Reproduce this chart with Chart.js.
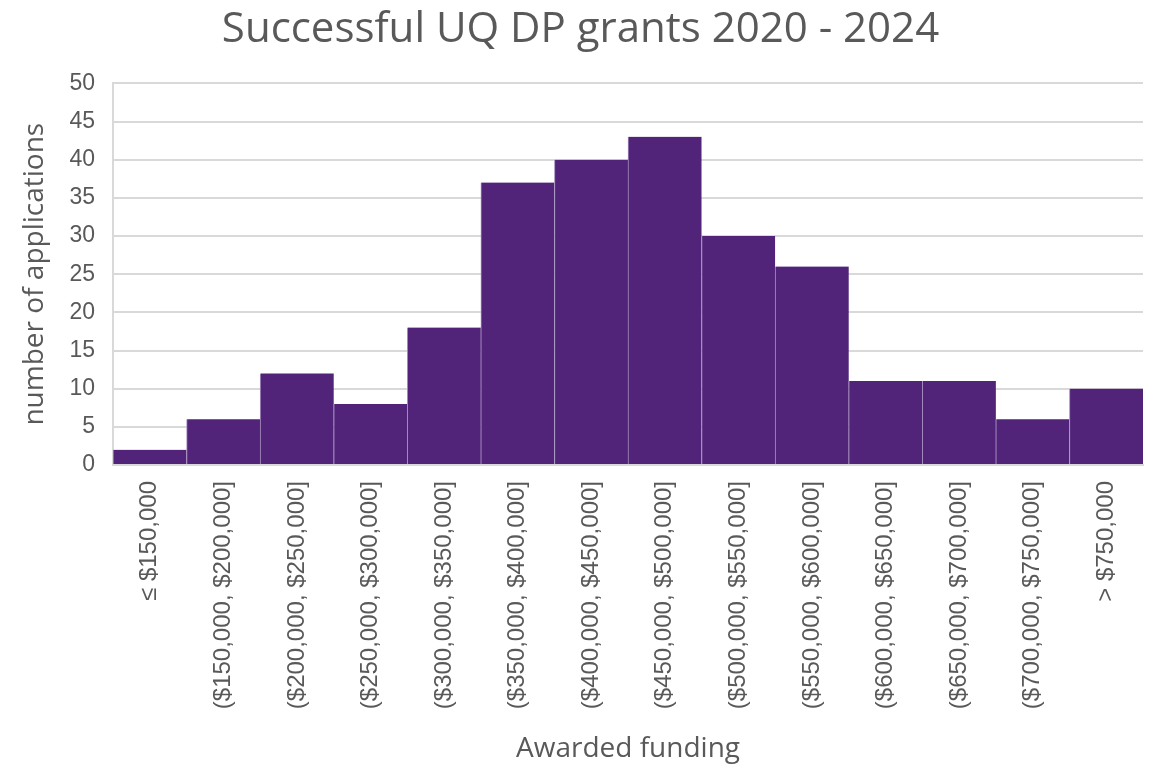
<!DOCTYPE html>
<html>
<head>
<meta charset="utf-8">
<script src="https://cdn.jsdelivr.net/npm/chart.js@4"></script>
<style>
html,body{margin:0;padding:0;background:#fff;}
#wrap{width:1155px;height:766px;position:relative;}
</style>
</head>
<body>
<div id="wrap"><canvas id="c" width="1155" height="766"></canvas></div>
<script>
const categories = ["≤ $150,000","($150,000, $200,000]","($200,000, $250,000]","($250,000, $300,000]","($300,000, $350,000]","($350,000, $400,000]","($400,000, $450,000]","($450,000, $500,000]","($500,000, $550,000]","($550,000, $600,000]","($600,000, $650,000]","($650,000, $700,000]","($700,000, $750,000]","> $750,000"];
const counts = [2,6,12,8,18,37,40,43,30,26,11,11,6,10];
const yTicks = [0,5,10,15,20,25,30,35,40,45,50];

new Chart(document.getElementById('c'), {
  type: 'bar',
  data: {
    labels: categories,
    datasets: [{
      data: counts,
      backgroundColor: '#51247A',
      borderColor: '#a58fbf',
      borderWidth: {left:1,right:0,top:0,bottom:0},
      borderSkipped: false,
      categoryPercentage: 1.0,
      barPercentage: 1.0
    }]
  },
  options: {
    responsive: false,
    animation: false,
    layout: {padding: {left: 18, right: 12, top: 0, bottom: 0}},
    plugins: {
      legend: {display: false},
      tooltip: {enabled: false},
      title: {
        display: true,
        text: 'Successful UQ DP grants 2020 - 2024',
        color: '#595959',
        font: {family: 'Open Sans', size: 42, weight: 'normal'},
        padding: {top: 5, bottom: 28}
      }
    },
    scales: {
      x: {
        afterFit: (s) => { s.height = 301; },
        grid: {display: false, drawTicks: false},
        border: {display: true, color: '#d9d9d9', width: 2},
        ticks: {
          color: '#595959',
          font: {family: 'Liberation Sans', size: 24},
          maxRotation: 90, minRotation: 90,
          padding: 16,
          autoSkip: false
        },
        title: {
          display: true,
          text: 'Awarded funding',
          color: '#595959',
          font: {family: 'Open Sans', size: 28},
          padding: {top: 10, bottom: 0}
        }
      },
      y: {
        min: 0, max: 50,
        afterFit: (s) => { s.width = 95; },
        afterBuildTicks: (s) => { s.ticks = yTicks.map(v => ({value: v})); },
        grid: {color: '#d9d9d9', lineWidth: 2, drawTicks: false},
        border: {display: true, color: '#d9d9d9', width: 2},
        ticks: {
          color: '#595959',
          font: {family: 'Liberation Sans', size: 23},
          padding: 18
        },
        title: {
          display: true,
          text: 'number of applications',
          color: '#595959',
          font: {family: 'Open Sans', size: 28},
          padding: {top: 0, bottom: 14}
        }
      }
    }
  }
});
</script>
</body>
</html>
